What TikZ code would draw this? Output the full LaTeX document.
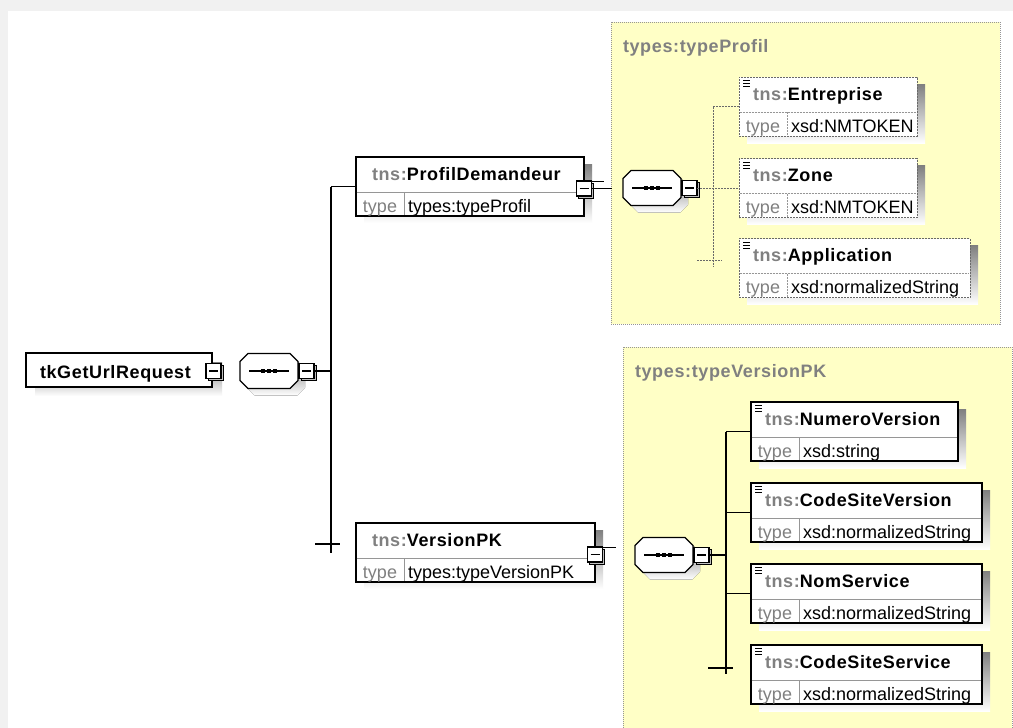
\documentclass[tikz,border=0pt]{standalone}
\usepackage{fontspec}
\setmainfont{Liberation Sans}
\newfontfamily\namefont[LetterSpace=3.5]{Liberation Sans}
\usetikzlibrary{calc}

\definecolor{shade}{RGB}{192,192,192}
\definecolor{paleyellow}{RGB}{255,255,198}
\definecolor{labelgray}{RGB}{128,128,128}
\definecolor{rulegray}{RGB}{150,150,150}
\definecolor{optgray}{RGB}{105,105,105}
\definecolor{bandgray}{RGB}{241,241,241}

\tikzset{
  every node/.style={inner sep=0pt, outer sep=0pt},
  box/.style={draw=black, line width=1.3pt, fill=white, anchor=north west, minimum height=59pt},
  optbox/.style={draw=optgray, line width=0.9pt, dash pattern=on 2pt off 1pt, fill=white, anchor=north west, minimum height=59pt},
  rule/.style={draw=rulegray, line width=1pt},
  optrule/.style={draw=rulegray, line width=0.9pt, dash pattern=on 2pt off 1pt},
  link/.style={draw=black, line width=1.3pt},
  optlink/.style={draw=optgray, line width=0.8pt, dash pattern=on 2pt off 1pt},
  ybox/.style={draw=rulegray, line width=0.8pt, dash pattern=on 1pt off 1pt, fill=paleyellow, anchor=north west},
  btn/.style={draw=black, line width=1.2pt, fill=white, minimum size=15pt},
  btnshadow/.style={draw=black, line width=1pt, fill=shade, minimum size=15pt},
  nametext/.style={anchor=base west, font=\namefont\bfseries\fontsize{18}{20}\selectfont},
  titletext/.style={anchor=base west, text=labelgray, font=\namefont\bfseries\fontsize{18}{20}\selectfont},
  typetext/.style={anchor=base west, font=\fontsize{18}{20}\selectfont},
  typelabel/.style={anchor=base, text=labelgray, font=\fontsize{18}{20}\selectfont},
}

% collapse button centred on a named coordinate
\newcommand\xbtn[2]{%
  \node[btnshadow] at ($(#2)+(2,2)$) {};
  \node[btn] (#1) at (#2) {};
  \draw[line width=1.2pt] ($(#1.center)+(-4.5,0)$) -- ($(#1.center)+(4.5,0)$);
}

% element box: name, x, y, width, box style, rule style, label, type, text indent
\newcommand\xelem[9]{%
  \fill[shade] (#2+8,#3+7) rectangle ++(#4,59);
  \node[#5, minimum width=#4pt] (#1) at (#2,#3) {};
  \draw[#6] ($(#1.north west)+(0.7,35)$) -- ($(#1.north east)+(-0.7,35)$);
  \draw[#6] ($(#1.north west)+(48,35)$) -- ($(#1.north west)+(48,58.3)$);
  \node[nametext] (#1-name) at ($(#1.north west)+(#9,23)$) {\textcolor{labelgray}{tns:}#7};
  \node[typelabel] (#1-kind) at ($(#1.north west)+(24,55)$) {type};
  \node[typetext] (#1-type) at ($(#1.north west)+(52,55)$) {#8};
}

% small "simple content" mark in the top left corner of an element
\newcommand\elicon[1]{%
  \foreach \k in {3.5,6.5,9.5} \draw[line width=0.75pt] ($(#1.north west)+(4,\k)$) -- +(7,0);
}

% sequence compositor: name, left x, centre y
\newcommand\xseq[3]{%
  \fill[shade] (#2+15,#3-10.5) -- ++(42,0) -- ++(8,8) -- ++(0,19) -- ++(-8,8)
    -- ++(-42,0) -- ++(-8,-8) -- ++(0,-19) -- cycle;
  \node[minimum width=58pt, minimum height=35pt, anchor=west] (#1) at (#2,#3) {};
  \draw[line width=1.3pt, fill=white]
    ($(#1.north west)+(8,0)$) -- ($(#1.north east)+(-8,0)$) -- ($(#1.north east)+(0,8)$)
    -- ($(#1.south east)+(0,-8)$) -- ($(#1.south east)+(-8,0)$) -- ($(#1.south west)+(8,0)$)
    -- ($(#1.south west)+(0,-8)$) -- ($(#1.north west)+(0,8)$) -- cycle;
  \draw[line width=1.2pt] ($(#1.west)+(9,0)$) -- ($(#1.east)+(-9,0)$);
  \foreach \d in {-6,0,6} \fill ($(#1.center)+(\d,0)$) +(-2,-2) rectangle +(2,2);
  \coordinate (#1bc) at ($(#1.east)+(8.5,0)$);
  \xbtn{#1b}{#1bc}
}

\begin{document}
\begin{tikzpicture}[x=1pt,y=-1pt]
\useasboundingbox (0,0) rectangle (1013,728);
\clip (0,0) rectangle (1013,728);
\fill[bandgray] (0,0) rectangle (1013,728);
\fill[white] (8,11) rectangle (1013,728);

% complex type containers
\node[ybox, minimum width=389pt, minimum height=302pt] (profil) at (611,22) {};
\node[titletext] (profil-title) at (623,52) {types:typeProfil};
\node[ybox, minimum width=389pt, minimum height=400pt] (vpkt) at (623,347) {};
\node[titletext] (vpkt-title) at (635,377) {types:typeVersionPK};

% root element
\fill[shade] (35,362) rectangle (222,396);
\node[box, minimum width=186pt, minimum height=34pt] (root) at (26,353) {};
\node[nametext] (root-name) at (40,378) {tkGetUrlRequest};
\coordinate (rootbc) at ($(root.east)+(1.5,1)$);
\xbtn{rootb}{rootbc}

% top-level sequence and its children
\xseq{s1}{240}{371}
\xelem{pd}{356}{157}{228}{box}{rule}{ProfilDemandeur}{types:typeProfil}{16}
\xelem{vpk}{356}{523}{239}{box}{rule}{VersionPK}{types:typeVersionPK}{16}
\coordinate (pdbc) at ($(pd.east)+(0,2)$);
\xbtn{pdb}{pdbc}
\coordinate (vpkbc) at ($(vpk.east)+(0,2)$);
\xbtn{vpkb}{vpkbc}

\path (pd.west) ++(-25,0) coordinate (trunktop);
\coordinate (trunkbot) at (331,553);
\coordinate (vpkstub) at (331,544);
\draw[link] (s1b.east) -- (s1b.east -| trunktop);
\draw[link] (trunktop) -- (trunkbot);
\draw[link] (trunktop) -- (pd.west);
\draw[link] ($(vpkstub)+(-16,0)$) -- ($(vpkstub)+(9,0)$);

\coordinate (pdend) at (612,189);
\draw[link] (pdb.east) -- (pdb.east -| pdend);
\draw[line width=1pt] (pdb.north east) -- ++(12,0);
\draw[line width=1pt] (vpkb.north east) -- ++(13,0);

% content of types:typeProfil
\xseq{s2}{623}{188}
\xelem{ent}{739}{77}{178}{optbox}{optrule}{Entreprise}{xsd:NMTOKEN}{14}
\elicon{ent}
\xelem{zone}{739}{158.5}{178}{optbox}{optrule}{Zone}{xsd:NMTOKEN}{14}
\elicon{zone}
\xelem{app}{739}{238.5}{231}{optbox}{optrule}{Application}{xsd:normalizedString}{14}
\elicon{app}

\path (ent.west) ++(-26,0) coordinate (ptop);
\coordinate (pbot) at (713,267);
\coordinate (appstub) at (713,260);
\draw[optlink] (s2b.east) -- (s2b.east -| zone.west);
\draw[optlink] (ptop) -- (pbot);
\draw[optlink] (ptop) -- (ent.west);
\draw[optlink] ($(appstub)+(-16,0)$) -- ($(appstub)+(9,0)$);

% content of types:typeVersionPK
\xseq{s3}{635}{555}
\xelem{nv}{751}{402}{207}{box}{rule}{NumeroVersion}{xsd:string}{14}
\elicon{nv}
\xelem{csv}{751}{483}{231}{box}{rule}{CodeSiteVersion}{xsd:normalizedString}{14}
\elicon{csv}
\xelem{ns}{751}{564}{231}{box}{rule}{NomService}{xsd:normalizedString}{14}
\elicon{ns}
\xelem{css}{751}{645}{231}{box}{rule}{CodeSiteService}{xsd:normalizedString}{14}
\elicon{css}

\path (nv.west) ++(-25,0) coordinate (vtop);
\coordinate (vbot) at (726,674);
\coordinate (cssstub) at (726,668);
\draw[link] (s3b.east) -- (s3b.east -| vtop);
\draw[link] (vtop) -- (vbot);
\draw[link] (vtop) -- (nv.west);
\draw[link] (csv.west -| vtop) -- (csv.west);
\draw[link] (ns.west -| vtop) -- (ns.west);
\draw[link] ($(cssstub)+(-18,0)$) -- ($(cssstub)+(7,0)$);
\end{tikzpicture}
\end{document}
